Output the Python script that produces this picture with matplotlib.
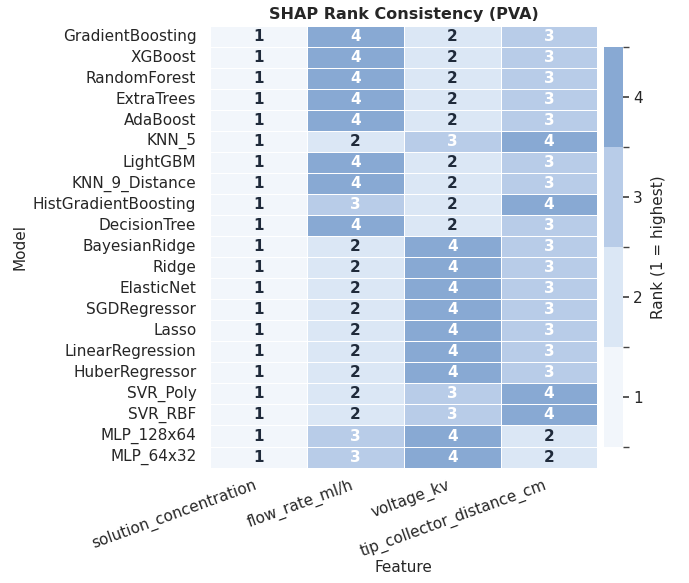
import matplotlib
matplotlib.use("Agg")
import matplotlib.pyplot as plt
import seaborn as sns
import numpy as np
import pandas as pd
from matplotlib.colors import ListedColormap, BoundaryNorm

models = ["GradientBoosting", "XGBoost", "RandomForest", "ExtraTrees", "AdaBoost",
          "KNN_5", "LightGBM", "KNN_9_Distance", "HistGradientBoosting", "DecisionTree",
          "BayesianRidge", "Ridge", "ElasticNet", "SGDRegressor", "Lasso",
          "LinearRegression", "HuberRegressor", "SVR_Poly", "SVR_RBF", "MLP_128x64", "MLP_64x32"]
features = ["solution_concentration", "flow_rate_ml/h", "voltage_kv", "tip_collector_distance_cm"]

solution_concentration = [1] * 21
flow_rate = [4, 4, 4, 4, 4, 2, 4, 4, 3, 4, 2, 2, 2, 2, 2, 2, 2, 2, 2, 3, 3]
voltage = [2, 2, 2, 2, 2, 3, 2, 2, 2, 2, 4, 4, 4, 4, 4, 4, 4, 3, 3, 4, 4]
tip_distance = [3, 3, 3, 3, 3, 4, 3, 3, 4, 3, 3, 3, 3, 3, 3, 3, 3, 4, 4, 2, 2]

rank_colors = ["#f2f6fb", "#dbe7f5", "#b8cce8", "#88a9d3"]

df = pd.DataFrame({features[0]: solution_concentration, features[1]: flow_rate,
                   features[2]: voltage, features[3]: tip_distance}, index=models)

sns.set_theme(style="white")
plt.rcParams['font.family'] = ['DejaVu Sans']

fig = plt.figure(figsize=(6.89, 5.83), dpi=100)
ax = fig.add_axes([0.305, 0.198, 0.562, 0.758])
cax = fig.add_axes([0.876, 0.233, 0.028, 0.686])

cmap = ListedColormap(rank_colors)
norm = BoundaryNorm([0.5, 1.5, 2.5, 3.5, 4.5], cmap.N)

sns.heatmap(df, ax=ax, cbar_ax=cax, cmap=cmap, norm=norm, annot=False,
            linewidths=0.6, linecolor="white",
            cbar_kws={"ticks": [1, 2, 3, 4]})

vals = df.values
for i in range(vals.shape[0]):
    for j in range(vals.shape[1]):
        v = vals[i, j]
        ax.text(j + 0.5, i + 0.5, str(v), ha="center", va="center",
                fontsize=11, fontweight="bold",
                color="white" if v >= 3 else "#1f2a3a")

ax.set_title("SHAP Rank Consistency (PVA)", fontsize=11.5, fontweight="bold", pad=5)
ax.set_xlabel("Feature", fontsize=11, labelpad=0)
ax.set_ylabel("Model", fontsize=11)
ax.tick_params(axis="y", length=0, labelsize=11, pad=10)
ax.tick_params(axis="x", length=0, labelsize=11, pad=7)
ax.set_yticklabels(models, rotation=0)
ax.set_xticklabels(features, rotation=20, ha="right")

cax.tick_params(labelsize=11, length=4, color="#444444")
cax.set_yticks([0.5, 1.5, 2.5, 3.5, 4.5], minor=True)
cax.tick_params(which="minor", length=4, color="#444444")
cax.set_ylabel("Rank (1 = highest)", fontsize=11, labelpad=6)
for s in cax.spines.values():
    s.set_visible(False)

fig.savefig("out.png", dpi=100)
